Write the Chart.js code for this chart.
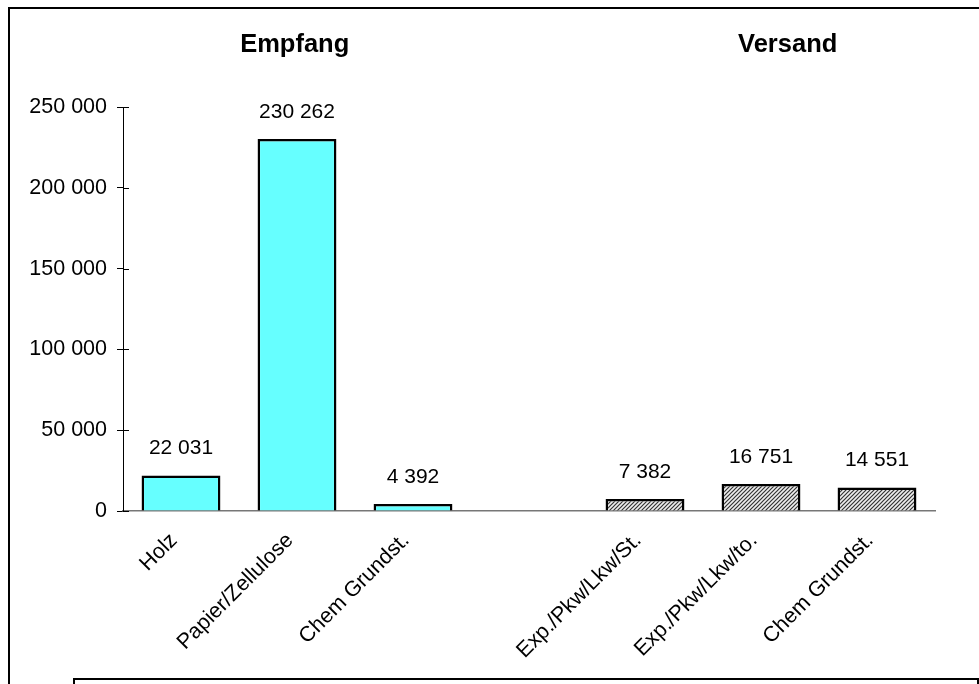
<!DOCTYPE html>
<html>
<head>
<meta charset="utf-8">
<script src="https://cdn.jsdelivr.net/npm/chart.js@4"></script>
<style>
    body { margin: 0; background: #fff; }
    #wrap { position: relative; width: 979px; height: 684px; overflow: hidden; }
    #canvas { position: absolute; left: 0; top: 0; }
    .frame { position: absolute; border: 2px solid #000; pointer-events: none; }
</style>
</head>
<body>
<div id="wrap">
    <canvas id="canvas" width="979" height="684"></canvas>
    <div class="frame" style="left:8px; top:7px; width:1000px; height:700px;"></div>
    <div class="frame" style="left:73px; top:678px; width:902px; height:40px; background:#fff;"></div>
</div>
<script>
// Categories (empty slot separates the two groups)
const categories = ['Holz', 'Papier/Zellulose', 'Chem Grundst.', '', 'Exp./Pkw/Lkw/St.', 'Exp./Pkw/Lkw/to.', 'Chem Grundst.'];
const values = [22031, 230262, 4392, null, 7382, 16751, 14551];
const kinds = ['empfang', 'empfang', 'empfang', null, 'versand', 'versand', 'versand'];

// Group headers, placed over a (fractional) category position
const groupLabels = ['Empfang', 'Versand'];
const groupCenters = [0.98, 5.23];

const yTicks = [0, 50000, 100000, 150000, 200000, 250000];

const FONT = '"Liberation Sans", Arial, sans-serif';

function fmt(v) {
    return String(v).replace(/\B(?=(\d{3})+(?!\d))/g, ' ');
}

// Hatch pattern for Versand bars
function makeHatch() {
    const c = document.createElement('canvas');
    c.width = 4; c.height = 4;
    const g = c.getContext('2d');
    g.fillStyle = '#eeeeee';
    g.fillRect(0, 0, 4, 4);
    g.strokeStyle = '#333';
    g.lineWidth = 1.2;
    g.beginPath();
    g.moveTo(-1, 5); g.lineTo(5, -1);
    g.moveTo(-1, 1); g.lineTo(1, -1);
    g.moveTo(3, 5); g.lineTo(5, 3);
    g.stroke();
    return g.createPattern(c, 'repeat');
}
const hatch = makeHatch();

const fills = kinds.map(k => k === 'versand' ? hatch : '#66ffff');

// Value labels above bars
const valueLabels = {
    id: 'valueLabels',
    afterDatasetsDraw(chart) {
        const ctx = chart.ctx;
        const meta = chart.getDatasetMeta(0);
        ctx.save();
        ctx.font = '21px ' + FONT;
        ctx.fillStyle = '#000';
        ctx.textAlign = 'center';
        ctx.textBaseline = 'middle';
        meta.data.forEach((bar, i) => {
            if (values[i] == null) return;
            ctx.fillText(fmt(values[i]), bar.x, bar.y - 27);
        });
        ctx.restore();
    }
};

// Group headers + inner half of y ticks
const extras = {
    id: 'extras',
    afterDraw(chart) {
        const ctx = chart.ctx;
        const x = chart.scales.x, y = chart.scales.y;
        ctx.save();
        ctx.font = 'bold 25.5px ' + FONT;
        ctx.fillStyle = '#000';
        ctx.textAlign = 'center';
        ctx.textBaseline = 'alphabetic';
        groupLabels.forEach((lab, i) => {
            ctx.fillText(lab, x.getPixelForValue(groupCenters[i]), 52);
        });
        ctx.strokeStyle = '#000';
        ctx.lineWidth = 1;
        yTicks.forEach(t => {
            const py = Math.round(y.getPixelForValue(t)) + 0.5;
            ctx.beginPath();
            ctx.moveTo(y.right, py);
            ctx.lineTo(y.right + 6, py);
            ctx.stroke();
        });
        ctx.restore();
    }
};

new Chart(document.getElementById('canvas'), {
    type: 'bar',
    data: {
        labels: categories,
        datasets: [{
            data: values,
            backgroundColor: fills,
            borderColor: '#000',
            borderWidth: 2.5,
            borderSkipped: 'bottom',
            categoryPercentage: 1,
            barPercentage: 0.68
        }]
    },
    options: {
        responsive: false,
        animation: false,
        layout: { padding: { top: 107, right: 44, bottom: 0, left: 0 } },
        plugins: { legend: { display: false }, tooltip: { enabled: false } },
        scales: {
            x: {
                grid: { display: false },
                border: { display: true, color: '#777', width: 1.5 },
                ticks: {
                    color: '#000',
                    font: { size: 21.5, family: FONT },
                    minRotation: 45, maxRotation: 45,
                    autoSkip: false,
                    labelOffset: -7,
                    padding: 9
                },
                afterFit(scale) { scale.height = 173; }
            },
            y: {
                min: 0, max: 250000,
                afterBuildTicks(scale) { scale.ticks = yTicks.map(v => ({ value: v })); },
                grid: { drawOnChartArea: false, drawTicks: true, tickLength: 6, tickColor: '#000', tickWidth: 1 },
                border: { display: true, color: '#000', width: 1 },
                ticks: {
                    color: '#000',
                    font: { size: 21.5, family: FONT },
                    padding: 10,
                    callback: v => fmt(v)
                },
                afterFit(scale) { scale.width = 123; }
            }
        }
    },
    plugins: [valueLabels, extras]
});
</script>
</body>
</html>
